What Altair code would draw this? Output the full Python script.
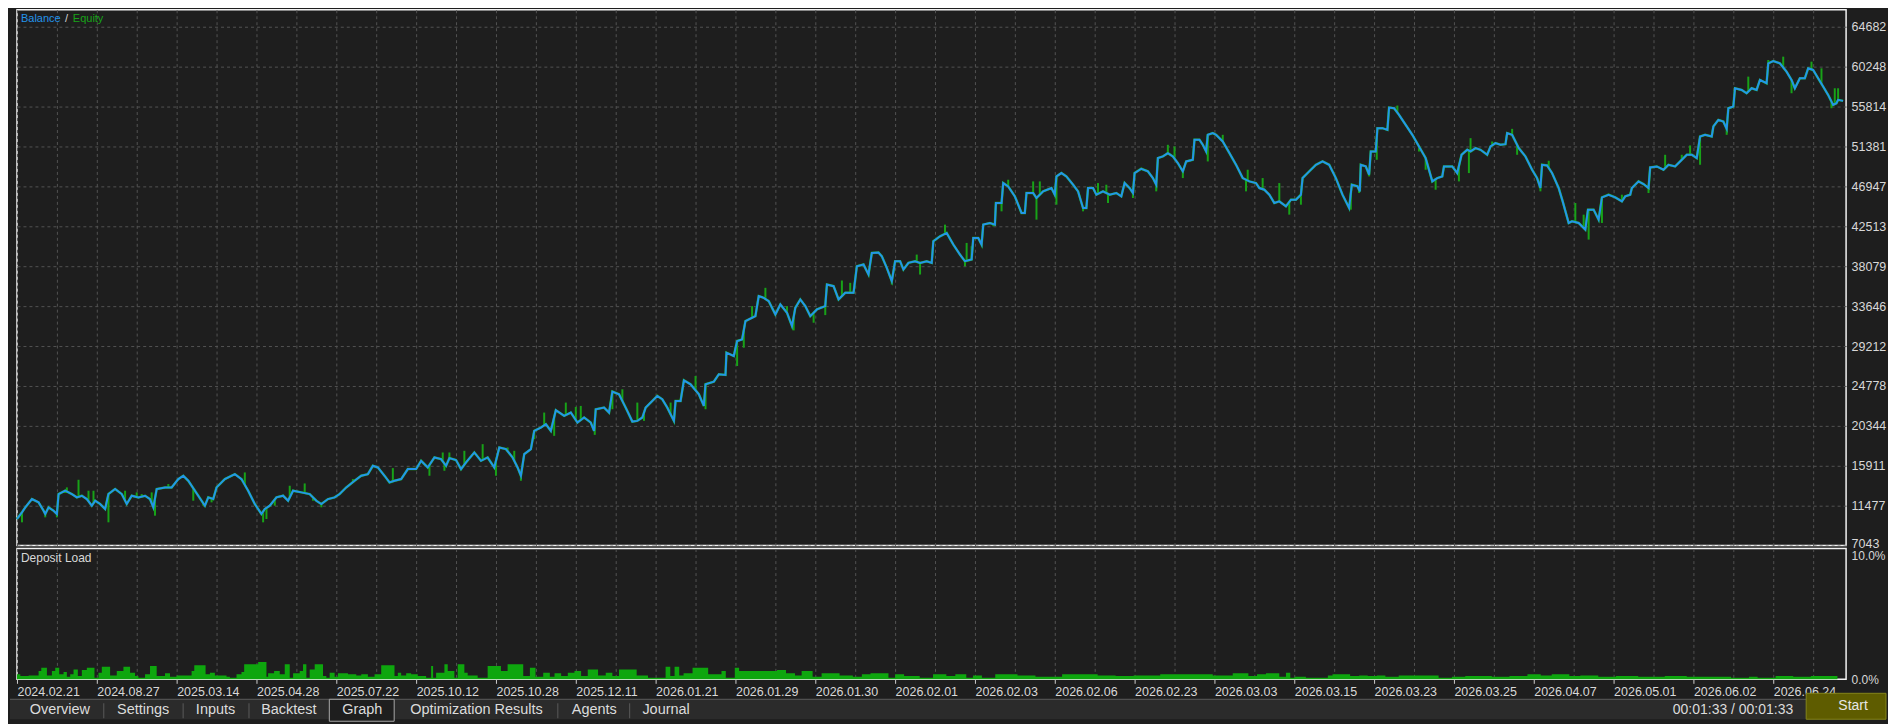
import altair as alt
import pandas as pd
import numpy as np

# ---------------- data ----------------
# trade index axis: 0 .. 5499 ; every 240 units one date label
x_labels = ["2024.02.21", "2024.08.27", "2025.03.14", "2025.04.28", "2025.07.22",
            "2025.10.12", "2025.10.28", "2025.12.11", "2026.01.21", "2026.01.29",
            "2026.01.30", "2026.02.01", "2026.02.03", "2026.02.06", "2026.02.23",
            "2026.03.03", "2026.03.15", "2026.03.23", "2026.03.25", "2026.04.07",
            "2026.05.01", "2026.06.02", "2026.06.24"]

y_ticks = [7043, 11477, 15911, 20344, 24778, 29212, 33646, 38079, 42513,
           46947, 51381, 55814, 60248, 64682]

bal_t = [0, 15, 25, 45, 65, 80, 85, 95, 110, 120, 125, 145, 165, 180, 195, 210, 225, 235, 250, 265,
         275, 295, 315, 330, 345, 365, 385, 400, 410, 420, 445, 465, 485, 500, 515, 535, 555, 565, 575, 590,
         600, 625, 655, 675, 695, 715, 735, 745, 760, 780, 800, 815, 830, 855, 880, 900, 915, 935, 955, 970,
         990, 1015, 1035, 1055, 1070, 1085, 1105, 1120, 1135, 1155, 1175, 1200, 1215, 1235, 1255, 1275,
         1290, 1300, 1320, 1335, 1350, 1375, 1395, 1415, 1435, 1450, 1470, 1490, 1505, 1515, 1525, 1545,
         1555, 1575, 1590, 1605, 1620, 1645, 1665, 1685, 1705, 1725, 1735, 1740, 1765, 1780, 1790, 1810,
         1830, 1850, 1865, 1880, 1890, 1925, 1940, 1955, 1975, 1980, 1995, 2005, 2025, 2050, 2065, 2070,
         2095, 2110, 2130, 2133, 2155, 2165, 2180, 2190, 2210, 2220, 2230, 2245, 2260, 2280, 2295, 2315,
         2330, 2340, 2355, 2370, 2385, 2405, 2430, 2435, 2455, 2470, 2490, 2515, 2525, 2545, 2560, 2570,
         2590, 2600, 2615, 2630, 2640, 2655, 2665, 2680, 2700, 2715, 2735, 2750, 2755, 2775, 2795, 2815,
         2835, 2850, 2870, 2875, 2890, 2900, 2905, 2925, 2940, 2943, 2960, 2965, 2980, 3000, 3020, 3030,
         3035, 3055, 3065, 3085, 3110, 3120, 3125, 3140, 3155, 3175, 3190, 3205, 3215, 3220, 3235, 3245,
         3265, 3285, 3305, 3320, 3330, 3345, 3355, 3360, 3380, 3400, 3415, 3425, 3430, 3445, 3460, 3475,
         3490, 3505, 3515, 3535, 3540, 3555, 3565, 3575, 3580, 3595, 3605, 3625, 3645, 3665, 3685, 3705,
         3725, 3735, 3750, 3765, 3780, 3795, 3815, 3830, 3845, 3860, 3865, 3885, 3905, 3925, 3945, 3965,
         3985, 4005, 4013, 4030, 4037, 4040, 4055, 4065, 4070, 4085, 4090, 4105, 4120, 4125, 4140, 4155,
         4175, 4195, 4215, 4235, 4255, 4270, 4285, 4290, 4315, 4330, 4343, 4360, 4370, 4385, 4400, 4420,
         4430, 4445, 4460, 4475, 4480, 4495, 4515, 4535, 4555, 4570, 4580, 4585, 4600, 4615, 4635, 4647,
         4665, 4675, 4695, 4715, 4723, 4740, 4755, 4765, 4785, 4805, 4825, 4835, 4850, 4855, 4875, 4890,
         4905, 4910, 4930, 4950, 4965, 4985, 5000, 5020, 5035, 5050, 5060, 5075, 5095, 5100, 5115, 5130,
         5140, 5145, 5160, 5165, 5185, 5200, 5215, 5230, 5240, 5260, 5265, 5280, 5300, 5320, 5335, 5345,
         5360, 5375, 5385, 5400, 5415, 5430, 5445, 5460, 5470, 5475, 5490]

bal_v = [10000, 10738, 11292, 12216, 11847, 10923, 10553, 11292, 10923, 10553, 12770, 13140, 12770, 12400,
         12585, 12216, 11477, 12031, 11662, 11107, 12770, 13325, 12770, 11662, 12585, 12400, 12585, 12216,
         11292, 13325, 13509, 13509, 14433, 14803, 14249, 13140, 12031, 11477, 12400, 12216, 13509, 14433,
         14988, 14433, 13140, 11662, 10553, 11107, 11477, 12400, 12585, 12031, 13140, 12955, 12770, 12031,
         11662, 12216, 12400, 12770, 13509, 14249, 14803, 14988, 15911, 15726, 14803, 14064, 14249, 14433,
         15541, 15541, 16465, 15726, 16835, 16650,
         15911, 16761, 16539, 15541, 16281, 17389, 16465, 16835, 15726, 17943, 17759, 16835, 15726, 14803,
         17204, 17759, 19791, 20160, 20530, 19791, 22082, 21453, 21823, 20714, 21269, 20714, 19791, 22193,
         22377, 21823, 24151, 23855, 22377, 20825, 20899, 21269, 22377, 23670, 23300, 22377, 20899, 23116,
         23116, 25407, 24963, 23855, 22562, 24963, 25259, 26072, 25998, 28474, 28104, 29767, 29952, 31984,
         32354, 32539, 34755, 34571, 34201, 32724, 33832, 32908, 31430, 33462, 34386, 33646, 32539, 33278,
         33646, 36048, 35863, 34386, 35125, 35125, 38081, 38266, 37157, 39559, 39600,
         39188, 37894, 36416, 38633, 38633, 37710, 38449, 38633, 38449, 38633, 38449, 40850, 41405, 41774,
         40481, 39372, 38633, 38818, 41220, 41220, 40481, 42698, 42883, 42698, 45100, 45100, 47317, 46948,
         45839, 43991, 43991, 46208, 46208, 45654, 46393, 46762, 46023, 48056, 48426, 48056, 47132, 46393,
         44545, 44545, 46762, 46762, 46023, 46393, 46023, 46208, 45839, 47317, 46762, 46208, 48426, 48906,
         48611, 47871, 47132, 50088, 50273, 50642, 50273, 49533, 48611, 49718, 49903, 52120, 52120, 51566,
         50827, 52674, 52859, 52674, 51936, 50642, 49348, 47871, 47502, 47317, 46762, 46577, 46023, 45100,
         45285, 44730, 45469, 45469, 46023, 47871, 48611, 49348, 49718, 49348, 47871, 46023, 44545,
         47132, 46950, 46393, 49348, 49164, 48240, 50827, 50827, 53413, 53413, 53228, 55704, 55630, 54891,
         53782, 52674, 51381, 50088, 47501, 47871, 48056, 49164, 49164, 48425, 50457, 51011, 50827, 51196,
         51011, 50457, 51381, 51750, 51566, 51640, 52859, 52674, 51196, 50273, 48795, 47871, 46762, 49348,
         49274, 48425, 46762, 45284, 42883, 43068, 42883, 42143, 44360, 44360, 43252, 45728, 46023, 45728,
         45284, 45839, 46023, 46762, 47501, 47206, 46762, 49053, 49164, 48795, 49348, 49164, 49718, 50457,
         50457, 50088, 52489, 52674, 52489, 53598, 54337, 54152, 53339, 55630, 55815, 57847, 57662, 57293,
         57847, 57662, 58771, 58402, 60618, 60877, 60618, 59695, 58771, 57847, 58956, 58956, 60064, 59880,
         58956, 58032, 57108, 56000, 56185, 56554, 56444]

# equity excursions (spike extreme values)
spike_t = [15, 85, 120, 150, 185, 215, 230, 275, 325, 360, 375, 405, 415, 455, 530, 560, 585, 685, 740, 750,
           775, 820, 865, 890, 915, 1010, 1130, 1240, 1280, 1285, 1300, 1345, 1400, 1440, 1475, 1495, 1515,
           1555, 1585, 1615, 1650, 1680, 1695, 1737, 1790, 1820, 1865, 1885, 1965, 1975, 2040, 2070, 2165,
           2185, 2210, 2250, 2315, 2335, 2395, 2430, 2480, 2505, 2630, 2705, 2715, 2790, 2850, 2855, 2870,
           2935, 2960, 2980, 3055, 3065, 3075, 3125, 3205, 3250, 3275, 3280, 3355, 3425, 3460, 3480, 3505,
           3580, 3625, 3695, 3700, 3745, 3795, 3825, 3860, 4010, 4035, 4065, 4088, 4150, 4215, 4235, 4265,
           4335, 4365, 4370, 4435, 4495, 4510, 4580, 4605, 4685, 4710, 4725, 4765, 4825, 4870, 4905, 4955,
           5005, 5030, 5060, 5140, 5205, 5265, 5310, 5335, 5395, 5425, 5455, 5465, 5475]
spike_v = [9630, 10184, 10184, 13509, 14359, 13140, 13140, 9630, 13140, 12955, 12770, 12955, 10368, 13879,
           12031, 11477, 11847, 15172, 9630, 10000, 11477, 13694, 13952, 12031, 11300, 14433, 15652, 14803,
           17389, 15357, 17389, 17574, 18313, 14803, 17943, 17574, 14248, 18867, 21823, 19236, 22932, 22452,
           22561, 19347, 22193, 24410, 22932, 20899, 22932, 21108, 25887, 22193, 26998, 29028, 33647, 35679,
           33646, 30950, 31800, 32650, 36492, 36233, 36047, 39372, 37155, 42698, 38079, 40666, 40300, 42513,
           44175, 47686, 47501, 43252, 47501, 44914, 44175, 47317, 47132, 45100, 45654, 46393, 51566, 51381,
           47871, 49718, 52674, 46393, 48796, 47871, 47317, 43807, 44914, 44360, 46208, 48055, 49903, 55926,
           50827, 48795, 46577, 47501, 48425, 52304, 51935, 53339, 50457, 46393, 49792, 45100, 43807, 41035,
           42883, 46023, 47317, 46208, 50457, 50457, 51492, 49348, 52674, 59140, 60987, 61357, 57293, 60802,
           60064, 55630, 57847, 57847]

# deposit load (%), step starts
load_t = [0, 10, 35, 65, 73, 90, 105, 115, 127, 140, 150, 160, 170, 183, 195, 210, 233, 245, 255, 280,
          300, 320, 340, 355, 365, 385, 400, 420, 445, 460, 480, 525, 533, 567, 580, 595, 630, 640, 660, 675,
          683, 725, 750, 755, 773, 790, 805, 820, 830, 850, 860, 870, 880, 895, 920, 930, 940, 955, 965, 995,
          1020, 1035, 1055, 1075, 1095, 1135, 1145, 1155, 1170, 1185, 1205, 1230, 1245, 1251, 1260, 1285,
          1295, 1315, 1325, 1345, 1355, 1385, 1415, 1455, 1475, 1522, 1542, 1559, 1582, 1602, 1616, 1636,
          1656, 1676, 1696, 1716, 1747, 1770, 1790, 1810, 1863, 1897, 1950, 1964, 1977, 1991, 2004, 2031,
          2078, 2118, 2131, 2158, 2171, 2258, 2285, 2312, 2339, 2359, 2392, 2419, 2473, 2513, 2540, 2566,
          2620, 2640, 2667, 2714, 2754, 2794, 2821, 2854, 2874, 2901, 2941, 3008, 3062, 3142, 3196, 3249,
          3303, 3357, 3437, 3490, 3555, 3595, 3655, 3702, 3728, 3755, 3795, 3815, 3828, 3841, 3875, 3941,
          3955, 4008, 4035, 4061, 4088, 4114, 4154, 4274, 4314, 4354, 4434, 4487, 4541, 4581, 4614, 4667,
          4700, 4754, 4807, 4874, 4954, 5020, 5153, 5207, 5233, 5287, 5340, 5393, 5473]
load_v = [0.38, 0.25, 0.3, 0.64, 0.89, 0.3, 0.64, 0.89, 0.38, 0.56, 0.2, 0.38, 0.76, 0.25, 0.71, 0.89, 0.13,
          0.51, 0.97, 0.3, 0.64, 0.97, 0.51, 0.25, 0.13, 0.38, 1.02, 0.25, 0.46, 0.2, 0.3, 0.64, 1.07, 0.38,
          0.51, 0.3, 0.2, 0.13, 0.38, 0.56, 1.15, 1.32, 0.2, 0.46, 0.64, 0.38, 1.15, 0.13, 0.46, 0.64, 1.15,
          0.13, 0.76, 1.15, 0.25, 0.13, 0.51, 0.2, 0.46, 0.38, 0.3, 0.38, 0.2, 0.38, 1.07, 0.25, 0.51, 0.3,
          0.46, 0.38, 0.25, 0.13, 1.02, 0.13, 0.51, 1.15, 0.64, 0.13, 1.15, 0.51, 0.3, 0.13, 1.02, 0.64,
          1.15, 0.25, 0.89, 0.2, 0.51, 0.2, 0.46, 0.25, 0.51, 0.64, 0.25, 0.76, 0.3, 0.51, 0.25, 0.76, 0.3,
          0.13, 0.97, 0.25, 0.97, 0.3, 0.46, 0.89, 0.38, 0.64, 0.13, 0.89, 0.64, 0.64, 0.71, 0.46, 0.3, 0.64,
          0.2, 0.46, 0.3, 0.2, 0.38, 0.46, 0.13, 0.38, 0.25, 0.13, 0.38, 0.25, 0.38, 0.13, 0.3, 0.13, 0.38,
          0.3, 0.2, 0.38, 0.38, 0.3, 0.25, 0.3, 0.38, 0.38, 0.38, 0.3, 0.46, 0.25, 0.38, 0.46, 0.2, 0.51,
          0.13, 0.2, 0.13, 0.3, 0.38, 0.25, 0.3, 0.25, 0.3, 0.2, 0.3, 0.13, 0.2, 0.25, 0.2, 0.25, 0.38, 0.3,
          0.38, 0.25, 0.3, 0.2, 0.25, 0.2, 0.25, 0.2, 0.13, 0.2, 0.13, 0.25, 0.2, 0.25, 0.0]

tabs = ["Overview", "Settings", "Inputs", "Backtest", "Graph", "Optimization Results", "Agents", "Journal"]

# ---------------- styling ----------------
BG = "#1e1e1e"
GRID = "#525252"
TXT = "#d8d8d8"
BLUE = "#2394ea"
GREEN = "#18a218"
LOAD_GREEN = "#0ea60e"
NUM_FONT = "Liberation Sans"
UI_FONT = "Liberation Sans"

W, H_MAIN, H_LOW = 1833, 537, 131
X_MAX = 5499

bal = pd.DataFrame({"t": bal_t, "v": bal_v})
spk = pd.DataFrame({"t": spike_t, "v": spike_v})
spk["b"] = np.interp(spk["t"], bal_t, bal_v)
load = pd.DataFrame({"t": load_t, "load": load_v})

xscale = alt.Scale(domain=[0, X_MAX], nice=False, zero=False)
grid_vals = list(range(0, X_MAX + 1, 120))

x_axis_main = alt.Axis(values=grid_vals, labels=False, ticks=False, domain=False, grid=True,
                       gridColor=GRID, gridDash=[3, 3], gridWidth=1, title=None)
y_axis_main = alt.Axis(orient="right", values=y_ticks, ticks=False, domain=False, labelPadding=5,
                       labelColor=TXT, labelFont=NUM_FONT, labelFontSize=12.5, labelOverlap=False,
                       grid=True, gridColor=GRID, gridDash=[3, 3], gridWidth=1, title=None,
                       format="d",
                       labelBaseline={"condition": {"test": "datum.value == 7043", "value": "alphabetic"},
                                      "value": "middle"},
                       labelOffset={"condition": {"test": "datum.value == 7043", "value": 2}, "value": 0})
yscale_main = alt.Scale(domain=[7043, 7043 + H_MAIN / 40 * 4433.77], nice=False, zero=False)

X = alt.X("t:Q", scale=xscale, axis=x_axis_main, title=None)
Y = alt.Y("v:Q", scale=yscale_main, axis=y_axis_main, title=None)


def txt(s, x, y, color=TXT, size=12, align="left", font=UI_FONT):
    return alt.Chart(pd.DataFrame({"s": [s]})).mark_text(
        align=align, baseline="middle", color=color, fontSize=size, font=font
    ).encode(text="s:N", x=alt.value(x), y=alt.value(y))


def box(x1, x2, y1, y2, fill, stroke="transparent", sw=0):
    return alt.Chart(pd.DataFrame({"s": [0]})).mark_rect(
        fill=fill, stroke=stroke, strokeWidth=sw
    ).encode(x=alt.value(x1), x2=alt.value(x2), y=alt.value(y1), y2=alt.value(y2))


def vline(x, y1, y2, color):
    return alt.Chart(pd.DataFrame({"s": [0]})).mark_rule(color=color, strokeWidth=1).encode(
        x=alt.value(x), y=alt.value(y1), y2=alt.value(y2))


spikes = alt.Chart(spk).mark_rule(color=GREEN, strokeWidth=2).encode(
    x=X, y=Y, y2=alt.Y2("b:Q"))
equity = alt.Chart(bal).mark_line(color=GREEN, strokeWidth=2.5).encode(x=X, y=Y)
balance = alt.Chart(bal).mark_line(color=BLUE, strokeWidth=2).encode(x=X, y=Y)

main = alt.layer(
    spikes, equity, balance,
    txt("Balance", 4, 9, BLUE, 11),
    txt("/", 48, 9, TXT, 11),
    txt("Equity", 56, 9, GREEN, 11),
).properties(width=W, height=H_MAIN)

# ---------------- lower panel ----------------
arr = "[" + ",".join("'" + s + "'" for s in x_labels) + "]"
x_axis_low = alt.Axis(
    values=grid_vals, labelExpr=f"datum.value % 240 == 0 ? {arr}[datum.value / 240] : ''",
    labelAlign="left", labelColor=TXT, labelFont=NUM_FONT, labelFontSize=12.5, labelPadding=2,
    labelOverlap=False, labelFlush=False, ticks=True, tickSize=4, tickColor="#cfcfcf",
    tickOpacity={"condition": {"test": "datum.value % 240 == 0", "value": 1}, "value": 0},
    domain=False, grid=True, gridColor=GRID, gridDash=[3, 3], gridWidth=1, title=None)
y_axis_low = alt.Axis(
    orient="right", values=[0, 10], labelExpr="format(datum.value, '.1f') + '%'",
    ticks=False, domain=False, grid=False, labelPadding=5, labelColor=TXT, labelFont=NUM_FONT,
    labelFontSize=12, labelOverlap=False, title=None,
    labelBaseline={"condition": {"test": "datum.value == 10", "value": "top"}, "value": "middle"},
    labelOffset={"condition": {"test": "datum.value == 10", "value": 2}, "value": 0})

area = alt.Chart(load).mark_area(interpolate="step-after", color=LOAD_GREEN, opacity=1).encode(
    x=alt.X("t:Q", scale=xscale, axis=x_axis_low, title=None),
    y=alt.Y("load:Q", scale=alt.Scale(domain=[0, 10], nice=False, zero=True), axis=y_axis_low, title=None))

tab_centers = [43, 126.5, 199, 272.5, 346, 460.5, 578.5, 650.5]
seps = [87, 166.5, 232.5, 542, 614]
TY = 162
ui_layers = [box(-7, 1873, 151, 171, "#2b2b2b")]
ui_layers.append(alt.Chart(pd.DataFrame({"s": [0]})).mark_rule(color="#5c5c5c", strokeWidth=1).encode(
    x=alt.value(-7), x2=alt.value(1873), y=alt.value(151)))
ui_layers.append(box(313, 378, 151, 173, BG, "#a8a8a8", 1))
for sx in seps:
    ui_layers.append(vline(sx, 155, 170, "#5a5a5a"))
for name, cx in zip(tabs, tab_centers):
    ui_layers.append(txt(name, cx, TY, "#dcdcdc", 14.5, "center"))
ui_layers.append(txt("00:01:33 / 00:01:33", 1780, TY, "#dcdcdc", 14, "right"))
ui_layers.append(box(1793, 1873, 145, 171, "#5e5c00", "#85851a", 1))
ui_layers.append(txt("Start", 1840, 158, "#e6e6e6", 14, "center"))

lower = alt.layer(
    area,
    txt("Deposit Load", 4, 9, TXT, 12),
    *ui_layers,
).properties(width=W, height=H_LOW)

chart = alt.vconcat(main, lower, spacing=3, bounds="flush").properties(
    padding={"left": 0, "top": 0, "right": 0, "bottom": 0},
    background=BG,
).configure_view(
    stroke="#f2f2f2", strokeWidth=1.5, fill=BG
)

chart.save("out.html", embed_options={"renderer": "svg", "actions": False})
